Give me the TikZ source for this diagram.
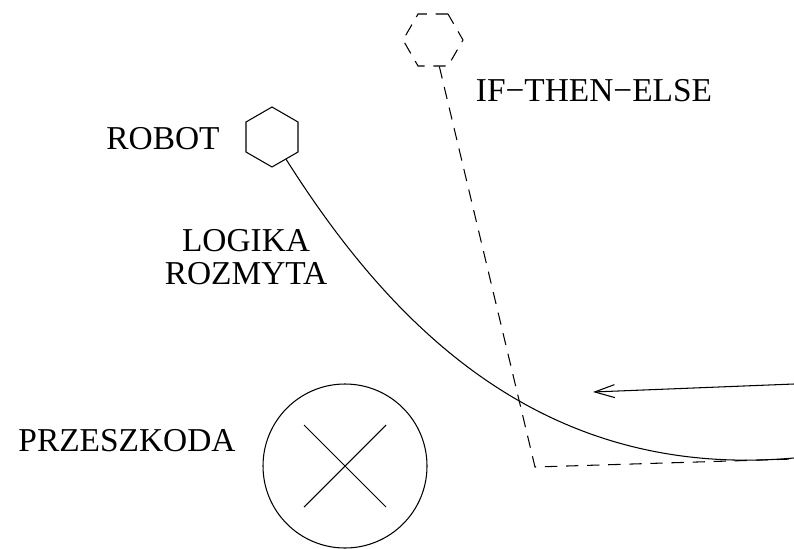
\documentclass[tikz,border=0pt]{standalone}
\usepackage{fontspec}
\setmainfont{Liberation Serif}
\usetikzlibrary{shapes.geometric,arrows.meta}

\begin{document}
\begin{tikzpicture}[line width=0.6pt,
    font=\fontsize{19}{18.7}\selectfont,
    hex/.style={draw=black, regular polygon, regular polygon sides=6, minimum size=1.2cm, inner sep=0pt},
    trasa/.style={dash pattern=on 7pt off 5pt}]
    \useasboundingbox (0,0) rectangle (15.88,10.96);
    % robot i cel sterownika IF-THEN-ELSE
    \node[hex, shape border rotate=30] at (5.44,8.22) (R) {};
    \node[hex, trasa] at (8.66,10.16) (H) {};
    % przeszkoda
    \node[shape=circle, draw=black, minimum size=3.28cm] at (6.90,1.64) (P) {};
    \draw (P.center) ++(-0.82,0.82) -- ++(1.64,-1.64);
    \draw (P.center) ++(-0.82,-0.82) -- ++(1.64,1.64);
    % opisy
    \node at (3.26,8.18) (Rt) {ROBOT};
    \node at (11.88,9.14) (Ht) {IF−THEN−ELSE};
    \node[align=center] at (4.92,5.81) (Lt) {LOGIKA\\ROZMYTA};
    \node at (2.54,2.14) (Pt) {PRZESZKODA};
    % trajektorie
    \coordinate (K) at (10.70,1.62);
    \coordinate (E1) at (15.88,1.78);
    \coordinate (E2) at (15.88,1.80);
    \draw[trasa] (H) -- (K) -- (E1);
    \draw (R) .. controls (7.88,4.36) and (10.90,1.36) .. (E2);
    % kierunek ruchu
    \coordinate (A1) at (15.88,3.28);
    \coordinate (A2) at (11.86,3.12);
    \draw[-{Straight Barb[length=4mm, width=2.6mm]}] (A1) -- (A2);
\end{tikzpicture}
\end{document}
